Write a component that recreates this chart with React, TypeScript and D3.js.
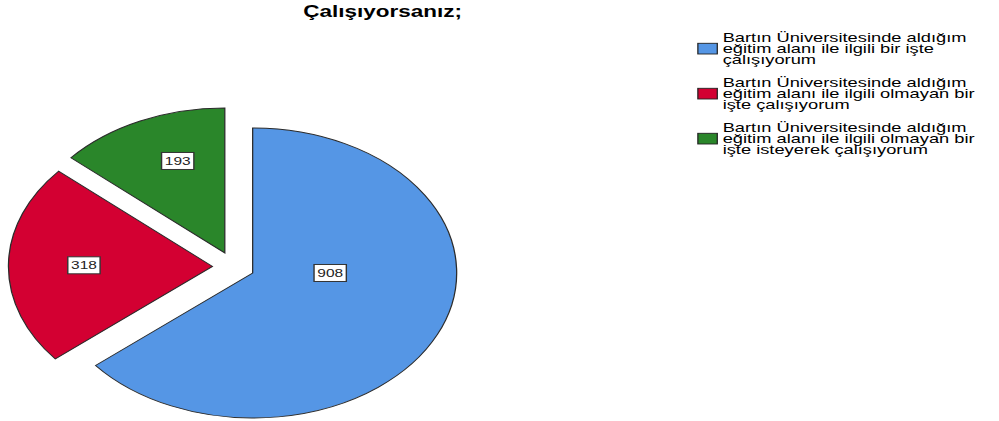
import React from 'react'
import * as d3 from 'd3'

// chart data
const title = 'Çalışıyorsanız;'
const categories = [
  ['Bartın Üniversitesinde aldığım', 'eğitim alanı ile ilgili bir işte', 'çalışıyorum'],
  ['Bartın Üniversitesinde aldığım', 'eğitim alanı ile ilgili olmayan bir', 'işte çalışıyorum'],
  ['Bartın Üniversitesinde aldığım', 'eğitim alanı ile ilgili olmayan bir', 'işte isteyerek çalışıyorum'],
]
const counts = [908, 318, 193]
const colors = ['#5596e5', '#d30032', '#2a862a']

// layout (drawn in a narrow space, then stretched horizontally like the source picture)
const W = 999
const H = 421
const STRETCH = 1.407
const R = 145
const center = { x: 166, y: 266.6 }
const EXPLODE = 15
// where the value boxes sit: angle (null = mid angle) and fraction of the radius, from the slice apex
const labelSpots: { angle: number | null; r: number }[] = [
  { angle: Math.PI / 2, r: 0.38 },
  { angle: null, r: 0.63 },
  { angle: (340 * Math.PI) / 180, r: 0.675 },
]
const FONT = "'Liberation Sans', Arial, sans-serif"

const App: React.FC = () => {
  const pie = d3.pie<number>().sort(null).value((d) => d)
  const arcs = pie(counts)
  const arc = d3.arc<d3.PieArcDatum<number>>().innerRadius(0).outerRadius(R)

  const legendX = 496
  const legendY = 43.3
  const itemGap = 45
  const lineGap = 11.3

  return (
    <svg
      width={W}
      height={H}
      style={{ position: 'absolute', left: 0, top: 0, background: '#fff' }}
    >
      <g transform={`scale(${STRETCH},1)`}>
        <text
          x={272}
          y={17.3}
          textAnchor="middle"
          fontFamily={FONT}
          fontWeight="bold"
          fontSize={16}
          fill="#000"
        >
          {title}
        </text>

        {arcs.map((a, i) => {
          const mid = (a.startAngle + a.endAngle) / 2
          const ox = center.x + EXPLODE * Math.sin(mid)
          const oy = center.y - EXPLODE * Math.cos(mid)
          const spot = labelSpots[i]
          const la = spot.angle ?? mid
          const lx = ox + spot.r * R * Math.sin(la)
          const ly = oy - spot.r * R * Math.cos(la)
          const txt = String(a.data)
          const boxW = txt.length * 0.556 * 11 + 4.6
          const boxH = 17
          return (
            <g key={i}>
              <path
                d={arc(a) || ''}
                transform={`translate(${ox},${oy})`}
                fill={colors[i]}
                stroke="#2b2b2b"
                strokeWidth={0.9}
                strokeLinejoin="miter"
              />
              <rect
                x={lx - boxW / 2}
                y={ly - boxH / 2}
                width={boxW}
                height={boxH}
                fill="#fff"
                stroke="#333"
                strokeWidth={1}
              />
              <text
                x={lx}
                y={ly + 4}
                textAnchor="middle"
                fontFamily={FONT}
                fontSize={11}
                fill="#222"
              >
                {txt}
              </text>
            </g>
          )
        })}

        {categories.map((lines, i) => (
          <g key={i}>
            <rect
              x={legendX}
              y={legendY + i * itemGap}
              width={13.8}
              height={10.7}
              fill={colors[i]}
              stroke="#222"
              strokeWidth={0.9}
            />
            {lines.map((ln, j) => (
              <text
                key={j}
                x={legendX + 17.6}
                y={legendY - 1.6 + i * itemGap + j * lineGap}
                fontFamily={FONT}
                fontSize={13}
                fill="#000"
              >
                {ln}
              </text>
            ))}
          </g>
        ))}
      </g>
    </svg>
  )
}

export default App
